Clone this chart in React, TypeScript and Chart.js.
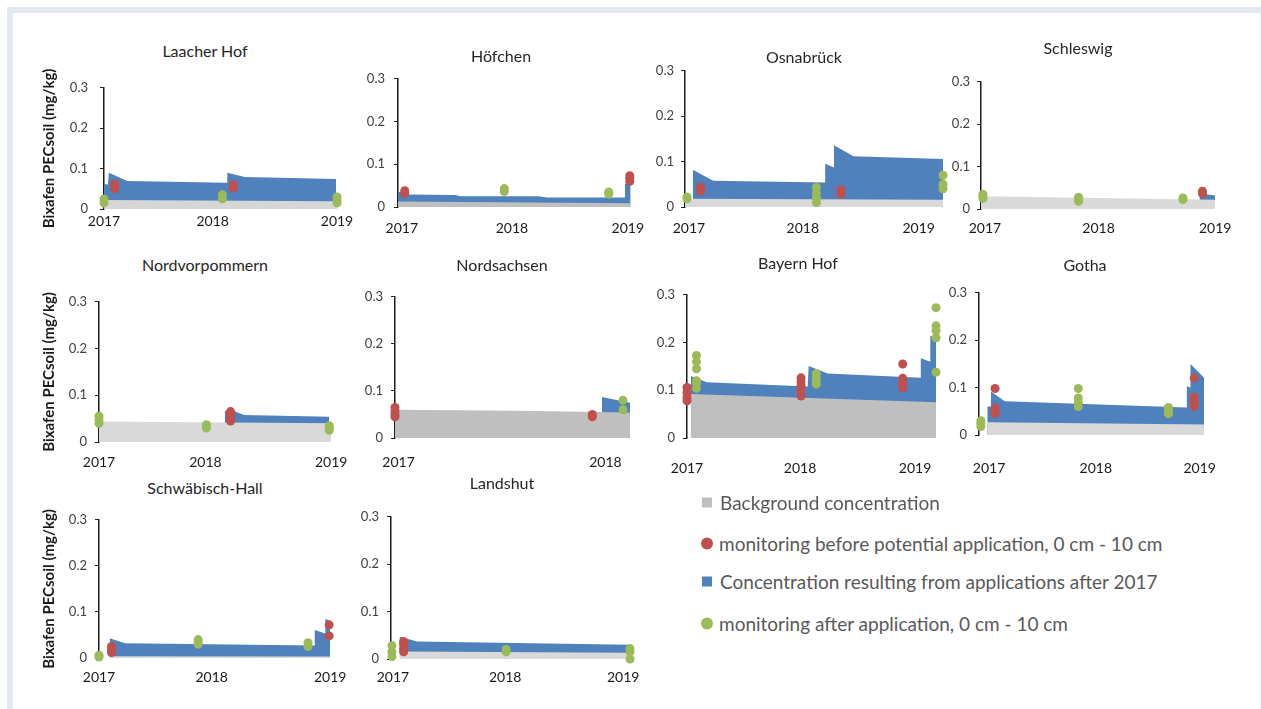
import React, { useEffect, useRef } from 'react';
import { Chart, registerables } from 'chart.js';

Chart.register(...registerables);

type Pair = [number, number];

// x = months after the start of 2017, y = Bixafen PECsoil (mg/kg)
const years3 = ['2017', '2018', '2019'];
const years2 = ['2017', '2018'];

// Laacher Hof
const laacherTicks = [0, 11.2, 24];
const laacherBackground: Pair[] = [[0, 0.022], [24, 0.019]];
const laacherConcentration: Pair[] = [[0, 0.063], [0.4, 0.06], [0.5, 0.09], [2.4, 0.069], [12.7, 0.065], [12.7, 0.09], [14.5, 0.079], [23.9, 0.074]];
const laacherBefore: Pair[] = [[1.1, 0.05], [1.1, 0.056], [1.1, 0.061], [13.3, 0.052], [13.3, 0.06]];
const laacherAfter: Pair[] = [[0, 0.015], [0, 0.025], [12.2, 0.025], [12.2, 0.035], [24, 0.015], [24, 0.022], [24, 0.03]];

// Höfchen
const hoefchenTicks = [0.4, 11.9, 24];
const hoefchenBackground: Pair[] = [[0, 0.013], [24.3, 0.009]];
const hoefchenConcentration: Pair[] = [[0, 0.035], [1, 0.035], [1, 0.029], [6, 0.028], [6.5, 0.025], [14.7, 0.025], [15.5, 0.022], [23.7, 0.022], [23.7, 0.055], [24.3, 0.052]];
const hoefchenBefore: Pair[] = [[0.7, 0.032], [0.7, 0.038], [24.2, 0.06], [24.2, 0.067], [24.2, 0.073]];
const hoefchenAfter: Pair[] = [[11.1, 0.036], [11.1, 0.043], [22, 0.03], [22, 0.035]];

// Osnabrück
const osnabrueckTicks = [0.4, 12.1, 24];
const osnabrueckBackground: Pair[] = [[0, 0.018], [26.5, 0.016]];
const osnabrueckConcentration: Pair[] = [[0.8, 0.082], [2.9, 0.058], [14.4, 0.054], [14.4, 0.095], [15.3, 0.087], [15.3, 0.136], [17.3, 0.112], [26.5, 0.106]];
const osnabrueckBefore: Pair[] = [[1.6, 0.035], [1.6, 0.04], [1.6, 0.044], [16, 0.028], [16, 0.033], [16, 0.038]];
const osnabrueckAfter: Pair[] = [[0.2, 0.018], [0.2, 0.022], [13.5, 0.01], [13.5, 0.02], [13.5, 0.03], [13.5, 0.043], [26.5, 0.04], [26.5, 0.05], [26.5, 0.07]];

// Schleswig
const schleswigTicks = [0.4, 12.05, 24];
const schleswigBackground: Pair[] = [[0, 0.03], [24, 0.022]];
const schleswigConcentration: Pair[] = [[22.4, 0.037], [24, 0.032]];
const schleswigBefore: Pair[] = [[22.7, 0.036], [22.7, 0.042]];
const schleswigAfter: Pair[] = [[0.2, 0.025], [0.2, 0.03], [0.2, 0.035], [10, 0.018], [10, 0.023], [10, 0.028], [20.7, 0.022], [20.7, 0.026]];

// Nordvorpommern
const nordvorpTicks = [0, 11, 24];
const nordvorpBackground: Pair[] = [[0, 0.044], [24, 0.04]];
const nordvorpConcentration: Pair[] = [[13, 0.067], [14, 0.066], [15, 0.058], [23.8, 0.054]];
const nordvorpBefore: Pair[] = [[13.6, 0.045], [13.6, 0.052], [13.6, 0.06], [13.6, 0.065]];
const nordvorpAfter: Pair[] = [[0, 0.04], [0, 0.047], [0, 0.055], [11.1, 0.03], [11.1, 0.037], [23.8, 0.025], [23.8, 0.03], [23.8, 0.035]];

// Nordsachsen
const nordsachsenTicks = [0.2, 12];
const nordsachsenBackground: Pair[] = [[0, 0.06], [7, 0.058], [13.4, 0.054]];
const nordsachsenConcentration: Pair[] = [[11.8, 0.087], [13.4, 0.075]];
const nordsachsenBefore: Pair[] = [[0, 0.045], [0, 0.05], [0, 0.057], [0, 0.065], [11.25, 0.045], [11.25, 0.05]];
const nordsachsenAfter: Pair[] = [[13, 0.06], [13, 0.08]];

// Bayern Hof
const bayernTicks = [0, 11.9, 24];
const bayernBackground: Pair[] = [[0.4, 0.092], [26.2, 0.075]];
const bayernConcentration: Pair[] = [[0.4, 0.13], [1, 0.125], [2.1, 0.117], [12.7, 0.108], [12.8, 0.151], [14.8, 0.135], [24.6, 0.126], [24.6, 0.167], [25.6, 0.16], [25.6, 0.214], [26.2, 0.21]];
const bayernBefore: Pair[] = [[0, 0.078], [0, 0.085], [0, 0.095], [0, 0.106], [12, 0.088], [12, 0.1], [12, 0.11], [12, 0.118], [12, 0.126], [22.7, 0.105], [22.7, 0.112], [22.7, 0.118], [22.7, 0.125], [22.7, 0.155]];
const bayernAfter: Pair[] = [[1, 0.104], [1, 0.115], [1, 0.12], [1, 0.145], [1, 0.16], [1, 0.173], [13.6, 0.113], [13.6, 0.12], [13.6, 0.127], [13.6, 0.135], [26.2, 0.138], [26.2, 0.21], [26.2, 0.225], [26.2, 0.235], [26.2, 0.273]];

// Gotha
const gothaTicks = [1.1, 12.7, 24];
const gothaBackground: Pair[] = [[0.9, 0.027], [24.5, 0.022]];
const gothaConcentration: Pair[] = [[0.9, 0.06], [1.3, 0.06], [1.3, 0.092], [2.8, 0.071], [22.6, 0.058], [22.6, 0.103], [23, 0.1], [23, 0.15], [24.5, 0.12]];
const gothaBefore: Pair[] = [[1.75, 0.045], [1.75, 0.05], [1.75, 0.057], [1.75, 0.098], [23.4, 0.06], [23.4, 0.07], [23.4, 0.08], [23.4, 0.12]];
const gothaAfter: Pair[] = [[0.2, 0.018], [0.2, 0.025], [0.2, 0.03], [10.8, 0.06], [10.8, 0.068], [10.8, 0.078], [10.8, 0.098], [20.6, 0.045], [20.6, 0.05], [20.6, 0.055], [20.6, 0.058]];

// Schwäbisch-Hall
const schwaebischTicks = [0, 11.7, 24];
const schwaebischBackground: Pair[] = [[1.1, 0.004], [24, 0.003]];
const schwaebischConcentration: Pair[] = [[1.1, 0.043], [2.7, 0.032], [22.4, 0.027], [22.4, 0.061], [23.5, 0.053], [23.5, 0.085], [24, 0.08]];
const schwaebischBefore: Pair[] = [[1.3, 0.012], [1.3, 0.018], [1.3, 0.025], [23.9, 0.048], [23.9, 0.072]];
const schwaebischAfter: Pair[] = [[0, 0.002], [0, 0.006], [10.3, 0.03], [10.3, 0.035], [10.3, 0.04], [21.7, 0.025], [21.7, 0.033]];

// Landshut
const landshutTicks = [0.2, 11.8, 24];
const landshutBackground: Pair[] = [[0.9, 0.016], [24.7, 0.013]];
const landshutConcentration: Pair[] = [[0.9, 0.047], [2.7, 0.037], [24.7, 0.03]];
const landshutBefore: Pair[] = [[1.3, 0.015], [1.3, 0.022], [1.3, 0.03], [1.3, 0.037]];
const landshutAfter: Pair[] = [[0.1, 0.005], [0.1, 0.015], [0.1, 0.028], [11.9, 0.015], [11.9, 0.02], [24.7, 0.0], [24.7, 0.015], [24.7, 0.022]];

const yTicks = [0, 0.1, 0.2, 0.3];

const legendItems = [
  'Background concentration',
  'monitoring before potential application, 0 cm - 10 cm',
  'Concentration resulting from applications after 2017',
  'monitoring after application, 0 cm - 10 cm',
];

const BLUE = '#4f81bd';
const RED = '#c0504d';
const GREEN = '#9bbb59';
const GRAY_LIGHT = '#d9d9d9';
const GRAY_DARK = '#bfbfbf';
const FONT = 'Lato, "Open Sans", sans-serif';

interface Site {
  title: string;
  bg: Pair[];
  conc: Pair[];
  before: Pair[];
  after: Pair[];
  ticks: number[];
  labels: string[];
  xMax: number;
  bgColor: string;
  box: { left: number; right: number; top: number; bottom: number };
  titleX: number;
  titleY: number;
  labelY: number;
  yTitle: boolean;
  yPad: number;
}

const sites: Site[] = [
  { title: 'Laacher Hof', bg: laacherBackground, conc: laacherConcentration, before: laacherBefore, after: laacherAfter, ticks: laacherTicks, labels: years3, xMax: 24, bgColor: '#d6d6d6', box: { left: 104, right: 337, top: 80, bottom: 209 }, titleX: 205, titleY: 50, labelY: 221, yTitle: true, yPad: 12 },
  { title: 'Höfchen', bg: hoefchenBackground, conc: hoefchenConcentration, before: hoefchenBefore, after: hoefchenAfter, ticks: hoefchenTicks, labels: years3, xMax: 24.3, bgColor: GRAY_DARK, box: { left: 398, right: 633, top: 74, bottom: 207 }, titleX: 501, titleY: 55, labelY: 228, yTitle: false, yPad: 9 },
  { title: 'Osnabrück', bg: osnabrueckBackground, conc: osnabrueckConcentration, before: osnabrueckBefore, after: osnabrueckAfter, ticks: osnabrueckTicks, labels: years3, xMax: 26.5, bgColor: GRAY_LIGHT, box: { left: 685, right: 943, top: 68, bottom: 207 }, titleX: 804, titleY: 56, labelY: 228, yTitle: false, yPad: 7 },
  { title: 'Schleswig', bg: schleswigBackground, conc: schleswigConcentration, before: schleswigBefore, after: schleswigAfter, ticks: schleswigTicks, labels: years3, xMax: 24, bgColor: GRAY_LIGHT, box: { left: 981, right: 1218, top: 79, bottom: 209 }, titleX: 1078, titleY: 47, labelY: 228, yTitle: false, yPad: 7 },
  { title: 'Nordvorpommern', bg: nordvorpBackground, conc: nordvorpConcentration, before: nordvorpBefore, after: nordvorpAfter, ticks: nordvorpTicks, labels: years3, xMax: 24, bgColor: GRAY_LIGHT, box: { left: 99, right: 335, top: 298, bottom: 442 }, titleX: 205, titleY: 264, labelY: 462, yTitle: true, yPad: 8 },
  { title: 'Nordsachsen', bg: nordsachsenBackground, conc: nordsachsenConcentration, before: nordsachsenBefore, after: nordsachsenAfter, ticks: nordsachsenTicks, labels: years2, xMax: 13.4, bgColor: GRAY_DARK, box: { left: 395, right: 630, top: 293, bottom: 438 }, titleX: 502, titleY: 264, labelY: 462, yTitle: false, yPad: 8 },
  { title: 'Bayern Hof', bg: bayernBackground, conc: bayernConcentration, before: bayernBefore, after: bayernAfter, ticks: bayernTicks, labels: years3, xMax: 26.2, bgColor: GRAY_DARK, box: { left: 687, right: 936, top: 291, bottom: 438 }, titleX: 798, titleY: 262, labelY: 468, yTitle: false, yPad: 8 },
  { title: 'Gotha', bg: gothaBackground, conc: gothaConcentration, before: gothaBefore, after: gothaAfter, ticks: gothaTicks, labels: years3, xMax: 24.5, bgColor: GRAY_LIGHT, box: { left: 979, right: 1217, top: 289, bottom: 435 }, titleX: 1085, titleY: 264, labelY: 468, yTitle: false, yPad: 8 },
  { title: 'Schwäbisch-Hall', bg: schwaebischBackground, conc: schwaebischConcentration, before: schwaebischBefore, after: schwaebischAfter, ticks: schwaebischTicks, labels: years3, xMax: 24, bgColor: GRAY_LIGHT, box: { left: 99, right: 333, top: 516, bottom: 658 }, titleX: 205, titleY: 487, labelY: 677, yTitle: true, yPad: 8 },
  { title: 'Landshut', bg: landshutBackground, conc: landshutConcentration, before: landshutBefore, after: landshutAfter, ticks: landshutTicks, labels: years3, xMax: 24.7, bgColor: GRAY_LIGHT, box: { left: 391, right: 630, top: 513, bottom: 659 }, titleX: 502, titleY: 482, labelY: 677, yTitle: false, yPad: 8 },
];

const toXY = (arr: Pair[]) => arr.map(([x, y]) => ({ x, y }));

function SiteChart({ site }: { site: Site }) {
  const ref = useRef<HTMLCanvasElement>(null);
  const padT = 12;
  const padR = 24;
  const padB = 2;
  const padL = 2;
  const X_FONT = 14;
  const Y_TITLE_FONT = 15;
  const yTitleLeft = 47 - (Y_TITLE_FONT * 1.2) / 2;
  const yW = site.yTitle ? site.box.left - yTitleLeft - padL : 48;
  const canvasLeft = site.box.left - yW - padL;
  const xOffset = site.labelY - site.box.bottom;
  const xH = xOffset + 12;
  const width = site.box.right - canvasLeft + padR;
  const height = padT + (site.box.bottom - site.box.top) + xH + padB;

  useEffect(() => {
    if (!ref.current) return;
    const chart = new Chart(ref.current, {
      type: 'line',
      data: {
        datasets: [
          {
            label: 'monitoring before potential application, 0 cm - 10 cm',
            data: toXY(site.before),
            showLine: false,
            pointRadius: 4.5,
            pointBorderWidth: 0,
            pointBackgroundColor: RED,
            backgroundColor: RED,
            borderColor: RED,
            order: 0,
            clip: false,
          } as any,
          {
            label: 'monitoring after application, 0 cm - 10 cm',
            data: toXY(site.after),
            showLine: false,
            pointRadius: 4.5,
            pointBorderWidth: 0,
            pointBackgroundColor: GREEN,
            backgroundColor: GREEN,
            borderColor: GREEN,
            order: 0,
            clip: false,
          },
          {
            label: 'Background concentration',
            data: toXY(site.bg),
            borderWidth: 0,
            borderColor: site.bgColor,
            backgroundColor: site.bgColor,
            pointRadius: 0,
            fill: 'origin',
            tension: 0,
            order: 1,
          },
          {
            label: 'Concentration resulting from applications after 2017',
            data: toXY(site.conc),
            borderWidth: 0,
            borderColor: BLUE,
            backgroundColor: BLUE,
            pointRadius: 0,
            fill: 'origin',
            tension: 0,
            order: 2,
          },
        ],
      },
      options: {
        responsive: false,
        animation: false,
        devicePixelRatio: 1,
        layout: { padding: { top: padT, right: padR, bottom: padB, left: padL } },
        plugins: {
          legend: { display: false },
          tooltip: { enabled: false },
          title: { display: false },
        },
        events: [],
        scales: {
          x: {
            type: 'linear',
            min: 0,
            max: site.xMax,
            afterFit: (s: any) => { s.height = xH; },
            afterBuildTicks: (s: any) => { s.ticks = site.ticks.map((v) => ({ value: v })); },
            grid: { display: false, drawTicks: false },
            border: { display: false },
            ticks: {
              autoSkip: false,
              maxRotation: 0,
              minRotation: 0,
              padding: xOffset - X_FONT * 0.6,
              color: '#1a1a1a',
              font: { family: FONT, size: X_FONT },
              callback: (_v: any, i: number) => site.labels[i],
            },
          },
          y: {
            type: 'linear',
            min: 0,
            max: 0.3,
            afterFit: (s: any) => { s.width = yW; },
            afterBuildTicks: (s: any) => { s.ticks = yTicks.map((v) => ({ value: v })); },
            grid: { drawOnChartArea: false, drawTicks: true, tickLength: 4, color: '#222', lineWidth: 1 },
            border: { display: true, color: '#1a1a1a', width: 1.5 },
            ticks: {
              padding: site.yPad,
              color: '#404040',
              font: { family: FONT, size: 13 },
              callback: (v: any) => String(Math.round(Number(v) * 10) / 10),
            },
            title: {
              display: site.yTitle,
              text: 'Bixafen PECsoil (mg/kg)',
              color: '#1a1a1a',
              font: { family: FONT, size: Y_TITLE_FONT, weight: 'bold' },
              padding: 0,
            },
          },
        },
      } as any,
    });
    return () => chart.destroy();
  }, []);

  return (
    <>
      <canvas
        ref={ref}
        width={width}
        height={height}
        style={{ position: 'absolute', left: canvasLeft, top: site.box.top - padT, width, height }}
      />
      <div
        style={{
          position: 'absolute',
          left: site.titleX,
          top: site.titleY,
          transform: 'translate(-50%, -50%)',
          font: `16px ${FONT}`,
          color: '#262626',
          whiteSpace: 'nowrap',
        }}
      >
        {site.title}
      </div>
    </>
  );
}

const legendMarkers = [
  { color: GRAY_DARK, round: false },
  { color: RED, round: true },
  { color: BLUE, round: false },
  { color: GREEN, round: true },
];
const legendRowsY = [502, 543, 581, 623];

export default function App() {
  return (
    <div style={{ position: 'absolute', left: 0, top: 0, width: 1261, height: 709, background: '#ffffff', overflow: 'hidden' }}>
      <div
        style={{
          position: 'absolute',
          left: 7,
          top: 7,
          width: 1254,
          height: 702,
          boxSizing: 'border-box',
          borderTop: '6px solid #e3e7f4',
          borderLeft: '6px solid #e3e7f4',
          borderRight: '1px solid #eef0f8',
          background: '#ffffff',
        }}
      />
      {sites.map((s) => (
        <SiteChart key={s.title} site={s} />
      ))}
      {legendItems.map((text, i) => (
        <div
          key={text}
          style={{
            position: 'absolute',
            left: 700,
            top: legendRowsY[i],
            transform: 'translateY(-50%)',
            display: 'flex',
            alignItems: 'center',
            whiteSpace: 'nowrap',
          }}
        >
          <span
            style={{
              display: 'inline-block',
              width: legendMarkers[i].round ? 12 : 10,
              height: legendMarkers[i].round ? 12 : 10,
              borderRadius: legendMarkers[i].round ? '50%' : 0,
              background: legendMarkers[i].color,
              marginRight: legendMarkers[i].round ? 6 : 8,
              marginLeft: legendMarkers[i].round ? 1 : 2,
            }}
          />
          <span style={{ font: `19px ${FONT}`, color: '#595959' }}>{text}</span>
        </div>
      ))}
    </div>
  );
}
